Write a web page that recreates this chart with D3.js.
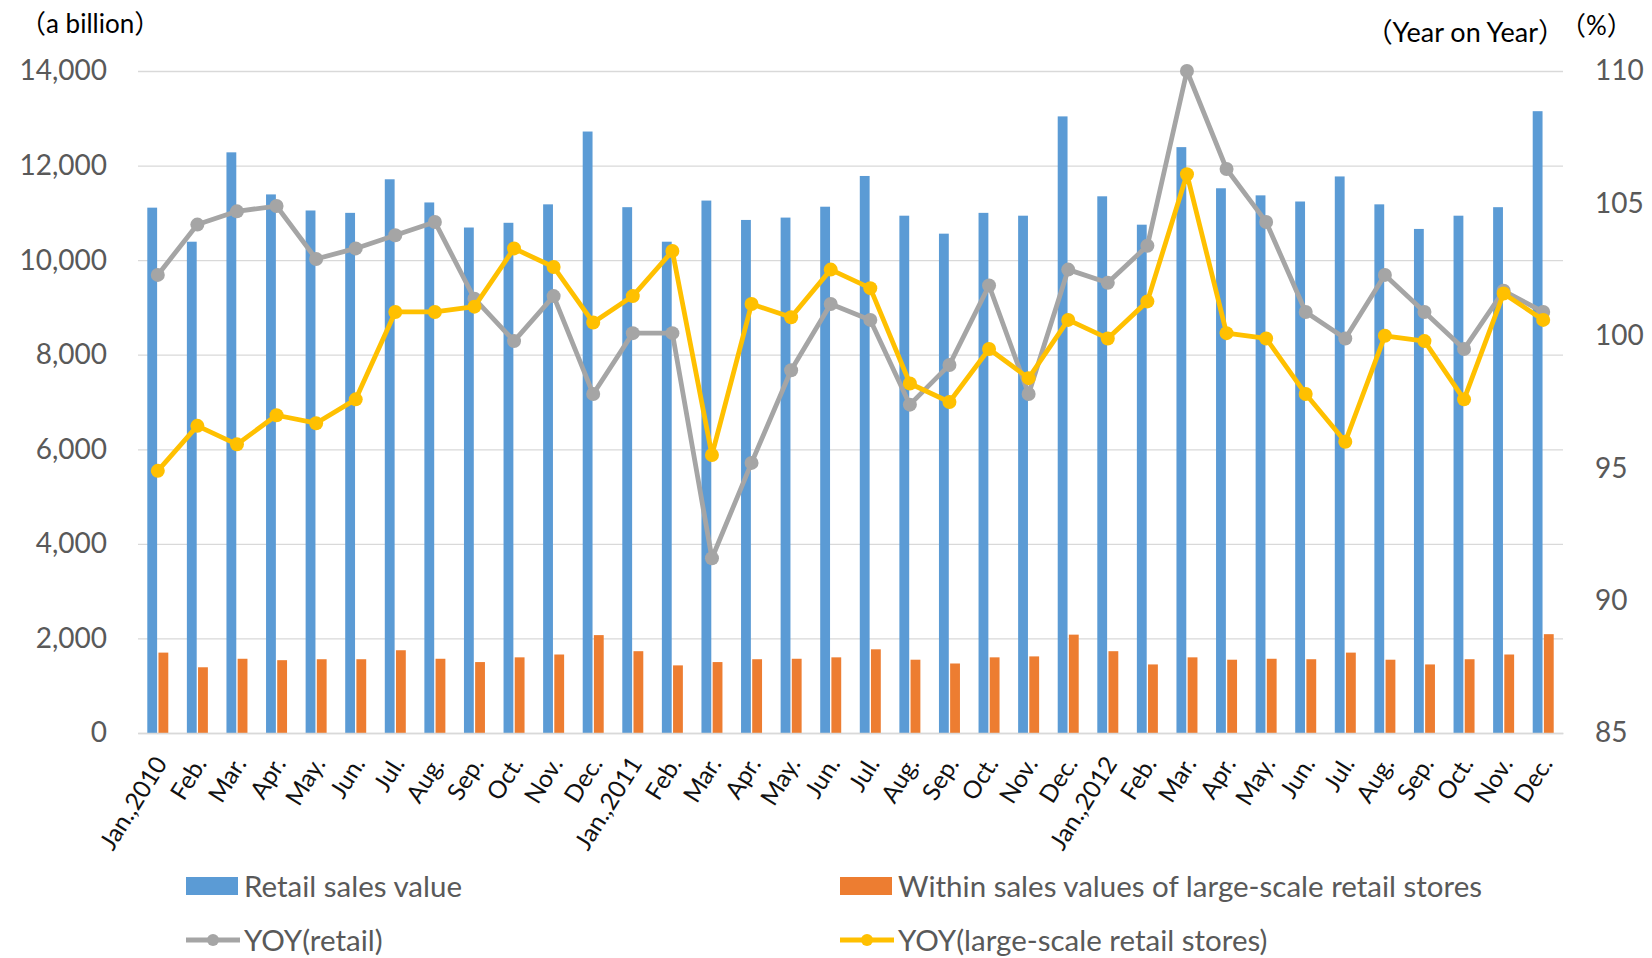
<!DOCTYPE html>
<html>
<head>
<meta charset="utf-8">
<title>Retail sales value and YOY</title>
<style>
    body { margin: 0; background: #fff; }
    .axis text { font-family: Lato, "Noto Sans CJK JP", sans-serif; }
    .legend text { font-family: Lato, "Noto Sans CJK JP", sans-serif; font-size: 29.5px; fill: #595959; }
    .unit { font-family: Lato, "Noto Sans CJK JP", sans-serif; fill: #000; }
</style>
</head>
<body>
<script src="https://cdn.jsdelivr.net/npm/d3@7/dist/d3.min.js"></script>
<script>
    // month labels along the x axis
    var months = ["Jan.,2010", "Feb.", "Mar.", "Apr.", "May.", "Jun.", "Jul.", "Aug.", "Sep.", "Oct.", "Nov.", "Dec.",
        "Jan.,2011", "Feb.", "Mar.", "Apr.", "May.", "Jun.", "Jul.", "Aug.", "Sep.", "Oct.", "Nov.", "Dec.",
        "Jan.,2012", "Feb.", "Mar.", "Apr.", "May.", "Jun.", "Jul.", "Aug.", "Sep.", "Oct.", "Nov.", "Dec."];

    // bars, a billion (left axis)
    var retail = [11110, 10390, 12280, 11390, 11050, 11000, 11710, 11220, 10690, 10790, 11180, 12720,
        11120, 10390, 11260, 10850, 10900, 11130, 11780, 10940, 10560, 11000, 10940, 13040,
        11350, 10750, 12390, 11520, 11370, 11240, 11770, 11180, 10660, 10940, 11120, 13150];
    var largeScale = [1700, 1390, 1570, 1540, 1560, 1560, 1750, 1570, 1500, 1600, 1660, 2070,
        1730, 1430, 1500, 1560, 1570, 1600, 1770, 1550, 1470, 1600, 1620, 2080,
        1730, 1450, 1600, 1550, 1570, 1560, 1700, 1550, 1450, 1560, 1660, 2090];

    // lines, % year on year (right axis)
    var yoyRetail = [102.3, 104.2, 104.7, 104.9, 102.9, 103.3, 103.8, 104.3, 101.4, 99.8, 101.5, 97.8,
        100.1, 100.1, 91.6, 95.2, 98.7, 101.2, 100.6, 97.4, 98.9, 101.9, 97.8, 102.5,
        102.0, 103.4, 110.0, 106.3, 104.3, 100.9, 99.9, 102.3, 100.9, 99.5, 101.7, 100.9];
    var yoyLarge = [94.9, 96.6, 95.9, 97.0, 96.7, 97.6, 100.9, 100.9, 101.1, 103.3, 102.6, 100.5,
        101.5, 103.2, 95.5, 101.2, 100.7, 102.5, 101.8, 98.2, 97.5, 99.5, 98.4, 100.6,
        99.9, 101.3, 106.1, 100.1, 99.9, 97.8, 96.0, 100.0, 99.8, 97.6, 101.6, 100.6];

    var leftTicks = [0, 2000, 4000, 6000, 8000, 10000, 12000, 14000];
    var rightTicks = [85, 90, 95, 100, 105, 110];

    var seriesNames = ["Retail sales value", "Within sales values of large-scale retail stores",
        "YOY(retail)", "YOY(large-scale retail stores)"];
    var colors = ["#5B9BD5", "#ED7D31", "#A5A5A5", "#FFC000"];

    // plot frame
    var width = 1652, height = 958;
    var plotLeft = 138, plotRight = 1563, plotTop = 71, plotBottom = 733;

    var svg = d3.select("body").append("svg")
        .attr("width", width)
        .attr("height", height);

    var x = d3.scaleBand()
        .domain(d3.range(months.length))
        .range([plotLeft, plotRight]);
    var groupW = 21;
    var xs = d3.scaleBand()
        .domain([0, 1])
        .range([0, groupW])
        .paddingInner(0.12);

    var y = d3.scaleLinear().domain([0, 14000]).range([plotBottom, plotTop]);
    var y2 = d3.scaleLinear().domain([85, 110]).range([plotBottom, plotTop]);

    // gridlines + left labels
    var gy = svg.append("g")
        .attr("class", "axis")
        .attr("transform", "translate(" + plotLeft + ",0)")
        .call(d3.axisLeft(y).tickValues(leftTicks).tickSize(-(plotRight - plotLeft)).tickPadding(31)
            .tickFormat(d3.format(",")));
    gy.select(".domain").remove();
    gy.selectAll("line").attr("stroke", "#D9D9D9").attr("stroke-width", 1.3);
    gy.selectAll("text").attr("fill", "#595959").style("font-size", "28px");

    // right labels
    var gy2 = svg.append("g")
        .attr("class", "axis")
        .attr("transform", "translate(" + plotRight + ",0)")
        .call(d3.axisRight(y2).tickValues(rightTicks).tickSize(0).tickPadding(32));
    gy2.select(".domain").remove();
    gy2.selectAll("text").attr("fill", "#595959").style("font-size", "28px");

    // bars
    var bars = [retail, largeScale];
    bars.forEach(function (vals, s) {
        svg.append("g").selectAll("rect")
            .data(vals)
            .enter()
            .append("rect")
            .attr("x", function (d, i) { return x(i) + x.bandwidth() / 2 - groupW / 2 + xs(s); })
            .attr("y", function (d) { return y(d); })
            .attr("width", xs.bandwidth())
            .attr("height", function (d) { return y(0) - y(d); })
            .attr("fill", colors[s]);
    });

    // x axis labels
    var gx = svg.append("g")
        .attr("class", "axis")
        .attr("transform", "translate(0," + plotBottom + ")")
        .call(d3.axisBottom(x).tickSize(0).tickFormat(function (i) { return months[i]; }));
    gx.select(".domain").attr("stroke", "#D9D9D9").attr("stroke-width", 1.3);
    gx.selectAll("text")
        .attr("fill", "#111")
        .style("font-size", "24.5px")
        .attr("text-anchor", "end")
        .attr("y", 0)
        .attr("dy", "0.35em")
        .attr("transform", "translate(3,26) rotate(-58)");

    // lines
    var lines = [yoyRetail, yoyLarge];
    var line = d3.line()
        .x(function (d, i) { return x(i) + x.bandwidth() / 2; })
        .y(function (d) { return y2(d); });
    lines.forEach(function (vals, s) {
        var g = svg.append("g");
        g.append("path")
            .datum(vals)
            .attr("d", line)
            .attr("fill", "none")
            .attr("stroke", colors[s + 2])
            .attr("stroke-width", 4.8)
            .attr("stroke-linejoin", "round");
        g.selectAll("circle")
            .data(vals)
            .enter()
            .append("circle")
            .attr("cx", function (d, i) { return x(i) + x.bandwidth() / 2; })
            .attr("cy", function (d) { return y2(d); })
            .attr("r", 7)
            .attr("fill", colors[s + 2]);
    });

    // unit labels
    svg.append("text").attr("class", "unit").attr("x", 20).attr("y", 33)
        .style("font-size", "26px").text("（a billion）");
    svg.append("text").attr("class", "unit").attr("x", 1565).attr("y", 42)
        .attr("text-anchor", "end").style("font-size", "27px").text("（Year on Year）");
    svg.append("text").attr("class", "unit").attr("x", 1560).attr("y", 35)
        .style("font-size", "26px").text("（%）");

    // legend
    var legendPos = [[186, 886], [840, 886], [186, 940], [840, 940]];
    var legend = svg.append("g").attr("class", "legend");
    seriesNames.forEach(function (name, s) {
        var p = legendPos[s];
        if (s < 2) {
            legend.append("rect")
                .attr("x", p[0]).attr("y", p[1] - 9)
                .attr("width", 52).attr("height", 18)
                .attr("fill", colors[s]);
        } else {
            legend.append("line")
                .attr("x1", p[0]).attr("x2", p[0] + 54)
                .attr("y1", p[1]).attr("y2", p[1])
                .attr("stroke", colors[s]).attr("stroke-width", 4.8);
            legend.append("circle")
                .attr("cx", p[0] + 27).attr("cy", p[1]).attr("r", 6)
                .attr("fill", colors[s]);
        }
        legend.append("text")
            .attr("x", p[0] + 58).attr("y", p[1])
            .attr("dy", "0.36em")
            .text(name);
    });
</script>
</body>
</html>
